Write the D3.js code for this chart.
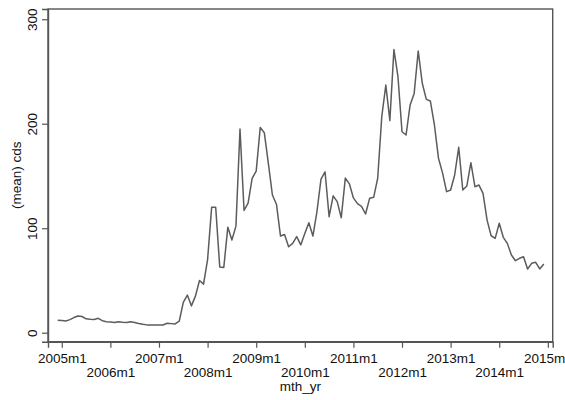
<!DOCTYPE html>
<html>
<head>
<meta charset="utf-8">
<script src="https://cdn.jsdelivr.net/npm/d3@7/dist/d3.min.js"></script>
<style>
  html, body { margin: 0; padding: 0; background: #fff; overflow: hidden; }
  svg { display: block; }
  text { font-family: "Liberation Sans", Arial, Helvetica, sans-serif; fill: #111; }
</style>
</head>
<body>
<svg id="chart" width="565" height="400"></svg>
<script>
// Monthly mean CDS, Stata %tm dates (2004m12 = 539)
const startMonth = 539;
const cdsValues = [
  12, 11.7, 11.2, 12.5, 14.5, 16, 15.5, 13.3, 12.8, 12.7, 13.8, 11.5,
  10.5, 10.2, 9.8, 10.5, 10, 9.7, 10.5, 9.8, 8.8, 8, 7.5, 7.3,
  7.3, 7.3, 7.4, 9, 8.7, 8.4, 11, 29, 36, 25.7, 35, 50,
  46.5, 70, 120, 120, 63, 62.5, 101, 88.7, 102, 195, 117, 124,
  147.7, 154.7, 196.5, 191.4, 162, 131.8, 123, 92.5, 94, 82.3, 85.5, 92,
  84, 95, 105.3, 92.5, 116, 147, 154, 111, 131, 125.4, 110, 148,
  142.5, 129, 123.5, 121, 113.6, 128.6, 129.6, 148, 206.7, 237, 203, 271,
  245, 192.3, 189.2, 218, 229, 269.6, 238.7, 223.3, 221.7, 198.8, 167, 153,
  135, 136.6, 151, 177.4, 136.6, 140.4, 162.7, 139.7, 141.3, 133.4, 107.8, 92.8,
  90.3, 104.7, 91.3, 85.5, 74.4, 68.9, 71.2, 72.7, 61, 66.4, 67.4, 61,
  65.7
];
const monthIndex = cdsValues.map((_, i) => startMonth + i);

const yTicks = [0, 100, 200, 300];
const xTickMonths = [540, 552, 564, 576, 588, 600, 612, 624, 636, 648, 660];
const xTickLabels = ["2005m1", "2006m1", "2007m1", "2008m1", "2009m1", "2010m1",
                     "2011m1", "2012m1", "2013m1", "2014m1", "2015m1"];
const xTitle = "mth_yr";
const yTitle = "(mean) cds";

const data = monthIndex.map((m, i) => ({ m, v: cdsValues[i] }));

const plot = { left: 48, top: 9, right: 552.7, bottom: 341.7 };
const x = d3.scaleLinear().domain([536.6, 661.2]).range([plot.left, plot.right]);
const y = d3.scaleLinear().domain([-8.6, 309.8]).range([plot.bottom, plot.top]);

const svg = d3.select("#chart");
const axisColor = "#555";
const fontSize = "13.5px";

// plot region frame
svg.append("rect")
  .attr("x", plot.left).attr("y", plot.top)
  .attr("width", plot.right - plot.left).attr("height", plot.bottom - plot.top)
  .attr("fill", "none").attr("stroke", axisColor).attr("stroke-width", 1.4);

// y axis
const yAxis = svg.append("g")
  .attr("transform", `translate(${plot.left},0)`)
  .call(d3.axisLeft(y).tickValues(yTicks).tickSize(6).tickPadding(0).tickFormat(d3.format("d")));
yAxis.select(".domain").attr("stroke", axisColor).attr("stroke-width", 1.4);
yAxis.selectAll(".tick line").attr("stroke", axisColor).attr("stroke-width", 1.2);
yAxis.selectAll(".tick text")
  .attr("x", null).attr("dy", null)
  .attr("transform", "translate(-11,0) rotate(-90)")
  .attr("text-anchor", "middle")
  .style("font-size", fontSize)
  .attr("fill", "#111");

// x axis with alternating label rows
const xAxis = svg.append("g")
  .attr("transform", `translate(0,${plot.bottom})`)
  .call(d3.axisBottom(x).tickValues(xTickMonths).tickSize(6)
    .tickFormat((d, i) => xTickLabels[i]));
xAxis.select(".domain").attr("stroke", axisColor).attr("stroke-width", 1.4);
xAxis.selectAll(".tick line").attr("stroke", axisColor).attr("stroke-width", 1.2);
xAxis.selectAll(".tick text")
  .attr("dy", null)
  .attr("y", (d, i) => i % 2 === 0 ? 21.5 : 35.5)
  .style("font-size", fontSize)
  .attr("fill", "#111");

// axis titles
svg.append("text")
  .attr("x", (plot.left + plot.right) / 2).attr("y", 391)
  .attr("text-anchor", "middle").style("font-size", fontSize)
  .text(xTitle);
svg.append("text")
  .attr("transform", `translate(21,${(plot.top + plot.bottom) / 2}) rotate(-90)`)
  .attr("text-anchor", "middle").style("font-size", fontSize)
  .text(yTitle);

// series line
svg.append("path")
  .datum(data)
  .attr("fill", "none")
  .attr("stroke", "#5c5c5c")
  .attr("stroke-width", 1.5)
  .attr("stroke-linejoin", "round")
  .attr("d", d3.line().x(d => x(d.m)).y(d => y(d.v)));
</script>
</body>
</html>
